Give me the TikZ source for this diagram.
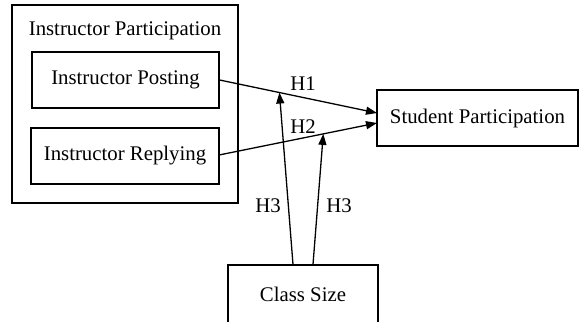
\documentclass[tikz,border=0pt]{standalone}
\usepackage{fontspec}
\setmainfont{Liberation Serif}
\usetikzlibrary{arrows.meta,calc}
\begin{document}
\begin{tikzpicture}[x=1pt,y=-1pt,
  every node/.style={font=\fontsize{20.8}{24}\selectfont, inner sep=0pt},
  box/.style={draw, line width=1.2pt, rectangle},
  link/.style={line width=1.3pt, -{Triangle[length=11pt,width=8pt]}},
  hyp/.style={font=\fontsize{20.8}{24}\selectfont}]
\useasboundingbox (0,0) rectangle (580,321);
% grouping frame
\node[box, minimum width=226pt, minimum height=198pt] (ip) at (125,104) {};
\node (iptitle) at (125,31) {Instructor Participation};
% construct boxes
\node[box, minimum width=187pt, minimum height=56pt] (post) at (125.5,80) {Instructor Posting};
\node[box, minimum width=188pt, minimum height=56pt] (reply) at (125,156) {Instructor Replying};
\node[box, minimum width=201pt, minimum height=56pt] (stud) at (477.5,118) {Student Participation};
\node[box, minimum width=150pt, minimum height=60pt, text depth=2pt] (cs) at (303,295) {Class Size};
% direct effects
\coordinate (p1) at (post.east);
\coordinate (r1) at (219,155);
\coordinate (s1) at (377,113);
\coordinate (s2) at (377,123);
\draw[link] (p1) -- (s1) coordinate[pos=0.38] (m1);
\draw[link] (r1) -- (s2) coordinate[pos=0.66] (m2);
% moderation
\draw[link] ($(cs.north)+(-10,0)$) -- (m1);
\draw[link] ($(cs.north)+(10,0)$) -- (m2);
% labels
\node[hyp] (h1) at (303,84) {H1};
\node[hyp] (h2) at (303,127) {H2};
\node[hyp] (h3a) at (268,206) {H3};
\node[hyp] (h3b) at (339,206) {H3};
\end{tikzpicture}
\end{document}
